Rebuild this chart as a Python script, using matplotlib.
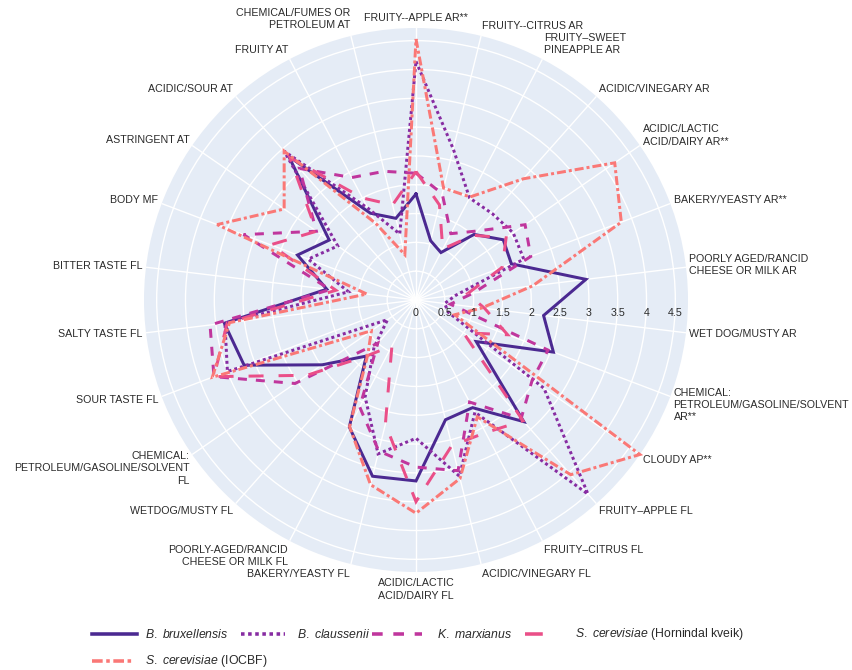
import numpy as np
import matplotlib
matplotlib.use("Agg")
import matplotlib.pyplot as plt
from matplotlib.lines import Line2D

plt.rcParams['font.family'] = ['Liberation Sans', 'DejaVu Sans']
plt.rcParams['mathtext.fontset'] = 'custom'
plt.rcParams['mathtext.it'] = 'Liberation Sans:italic'
plt.rcParams['mathtext.rm'] = 'Liberation Sans'

categories = [
    "FRUITY--APPLE AR**", "FRUITY--CITRUS AR", "FRUITY\u2013SWEET\nPINEAPPLE AR",
    "ACIDIC/VINEGARY AR", "ACIDIC/LACTIC\nACID/DAIRY AR**", "BAKERY/YEASTY AR**",
    "POORLY AGED/RANCID\nCHEESE OR MILK AR", "WET DOG/MUSTY AR",
    "CHEMICAL:\nPETROLEUM/GASOLINE/SOLVENT\nAR**", "CLOUDY AP**",
    "FRUITY\u2013APPLE FL", "FRUITY\u2013CITRUS FL", "ACIDIC/VINEGARY FL",
    "ACIDIC/LACTIC\nACID/DAIRY FL", "BAKERY/YEASTY FL",
    "POORLY-AGED/RANCID\nCHEESE OR MILK FL", "WETDOG/MUSTY FL",
    "CHEMICAL:\nPETROLEUM/GASOLINE/SOLVENT\nFL", "SOUR TASTE FL", "SALTY TASTE FL",
    "BITTER TASTE FL", "BODY MF", "ASTRINGENT AT", "ACIDIC/SOUR AT", "FRUITY AT",
    "CHEMICAL/FUMES OR\nPETROLEUM AT",
]

b_bruxellensis = [1.84, 1.06, 0.93, 1.52, 1.84, 1.77, 2.97, 2.23, 2.55, 1.27, 2.82, 2.11, 2.14,
                  3.14, 3.15, 2.49, 1.30, 1.98, 3.19, 3.35, 1.56, 2.20, 1.83, 3.33, 1.70, 1.46]
b_claussenii = [4.14, 2.70, 2.00, 2.00, 2.05, 2.00, 0.70, 0.50, 0.60, 2.70, 4.50, 2.20, 3.15,
                2.40, 2.75, 1.90, 1.10, 0.60, 3.50, 3.34, 1.18, 2.00, 1.65, 3.45, 1.80, 1.18]
k_marxianus = [2.20, 1.90, 1.30, 1.60, 2.30, 2.13, 1.00, 0.60, 2.45, 2.45, 2.75, 2.00, 3.05,
               2.90, 2.70, 2.10, 1.00, 2.55, 3.75, 3.60, 1.50, 3.20, 2.10, 3.05, 2.40, 2.30]
s_cer_hornindal = [2.23, 1.70, 1.00, 1.50, 1.90, 1.60, 0.90, 1.20, 1.70, 1.00, 2.80, 2.60, 2.60,
                   3.50, 2.22, 0.90, 1.30, 2.30, 3.75, 3.30, 1.40, 2.70, 2.10, 3.30, 2.00, 1.70]
s_cer_iocbf = [4.53, 2.00, 2.02, 2.81, 4.19, 3.81, 2.04, 1.15, 0.72, 4.72, 4.05, 2.29, 3.19,
               3.70, 3.30, 2.48, 1.26, 0.94, 3.78, 3.26, 0.86, 3.69, 2.78, 3.45, 1.50, 0.81]

series_names = [r"$\it{B.\ bruxellensis}$", r"$\it{B.\ claussenii}$", r"$\it{K.\ marxianus}$",
                r"$\it{S.\ cerevisiae}$ (Hornindal kveik)", r"$\it{S.\ cerevisiae}$ (IOCBF)"]
series_values = [b_bruxellensis, b_claussenii, k_marxianus, s_cer_hornindal, s_cer_iocbf]
colors = ["#4b2991", "#872ca2", "#c0369d", "#ea4f88", "#fa7876"]
styles = ["-", (0, (1, 1)), (0, (3, 3)), (0, (5, 5)), (0, (3, 1, 1, 1))]

r_ticks = [0, 0.5, 1, 1.5, 2, 2.5, 3, 3.5, 4, 4.5]
r_tick_labels = ["0", "0.5", "1", "1.5", "2", "2.5", "3", "3.5", "4", "4.5"]
r_max = 4.72

W, H = 853, 670
fig = plt.figure(figsize=(W / 100, H / 100), dpi=100)
cx, cy, R = 416, 300, 272
ax = fig.add_axes([(cx - R) / W, (H - cy - R) / H, 2 * R / W, 2 * R / H], projection='polar')
ax.set_theta_zero_location('N')
ax.set_theta_direction(-1)
ax.set_facecolor('#e5ecf6')
ax.spines['polar'].set_visible(False)

n = len(categories)
theta = np.arange(n) * 2 * np.pi / n
ax.set_xticks(theta)
ax.set_xticklabels([])
ax.set_ylim(0, r_max)
ax.set_yticks(r_ticks)
ax.set_yticklabels([])
ax.grid(True, color='white', linewidth=1.0)
ax.tick_params(length=0)

lw = 2.16
for vals, c, ls in zip(series_values, colors, styles):
    v = list(vals) + [vals[0]]
    t = list(theta) + [theta[0]]
    ax.plot(t, v, color=c, linestyle=ls, linewidth=lw, solid_joinstyle='miter',
            dash_joinstyle='miter', clip_on=False)

fs = 7.7
txt_color = '#2a2a2a'
for rv, lab in zip(r_ticks, r_tick_labels):
    ax.annotate(lab, xy=(np.pi / 2, rv), xytext=(0, -9.0), textcoords='offset points',
                ha='center', va='center', fontsize=fs, color=txt_color)

line_h = fs * 1.3
for th, lab in zip(theta, categories):
    rad = np.pi / 2 - th
    cs, sn = np.cos(rad), np.sin(rad)
    nl = lab.count("\n") + 1
    h = nl * line_h
    stand = 2.5
    dx = stand * cs
    dy = stand * sn + 0.5 * sn * h
    if abs(cs) < 0.05:
        ha = 'center'
    elif cs > 0:
        ha = 'left'
    else:
        ha = 'right'
    ax.annotate(lab, xy=(th, r_max), xytext=(dx, dy), textcoords='offset points',
                ha=ha, va='center', fontsize=fs, color=txt_color, linespacing=1.3,
                annotation_clip=False)

leg_fs = 8.8
leg_pos = [(92, 634), (241, 634), (372, 634), (525, 634), (92, 661)]
leg_len = [45, 44, 50, 32, 42]
text_x = [145, 297, 437, 575, 145]
for (x, y), ln, tx, name, c, ls in zip(leg_pos, leg_len, text_x, series_names, colors, styles):
    fx0, fx1 = x / W, (x + ln) / W
    fy = 1 - y / H
    fig.add_artist(Line2D([fx0, fx1], [fy, fy], color=c, linestyle=ls, linewidth=lw + 0.4,
                          transform=fig.transFigure))
    fig.text(tx / W, fy, name, fontsize=leg_fs, color=txt_color, va='center', ha='left')

fig.savefig("out.png", dpi=100, facecolor='white')
